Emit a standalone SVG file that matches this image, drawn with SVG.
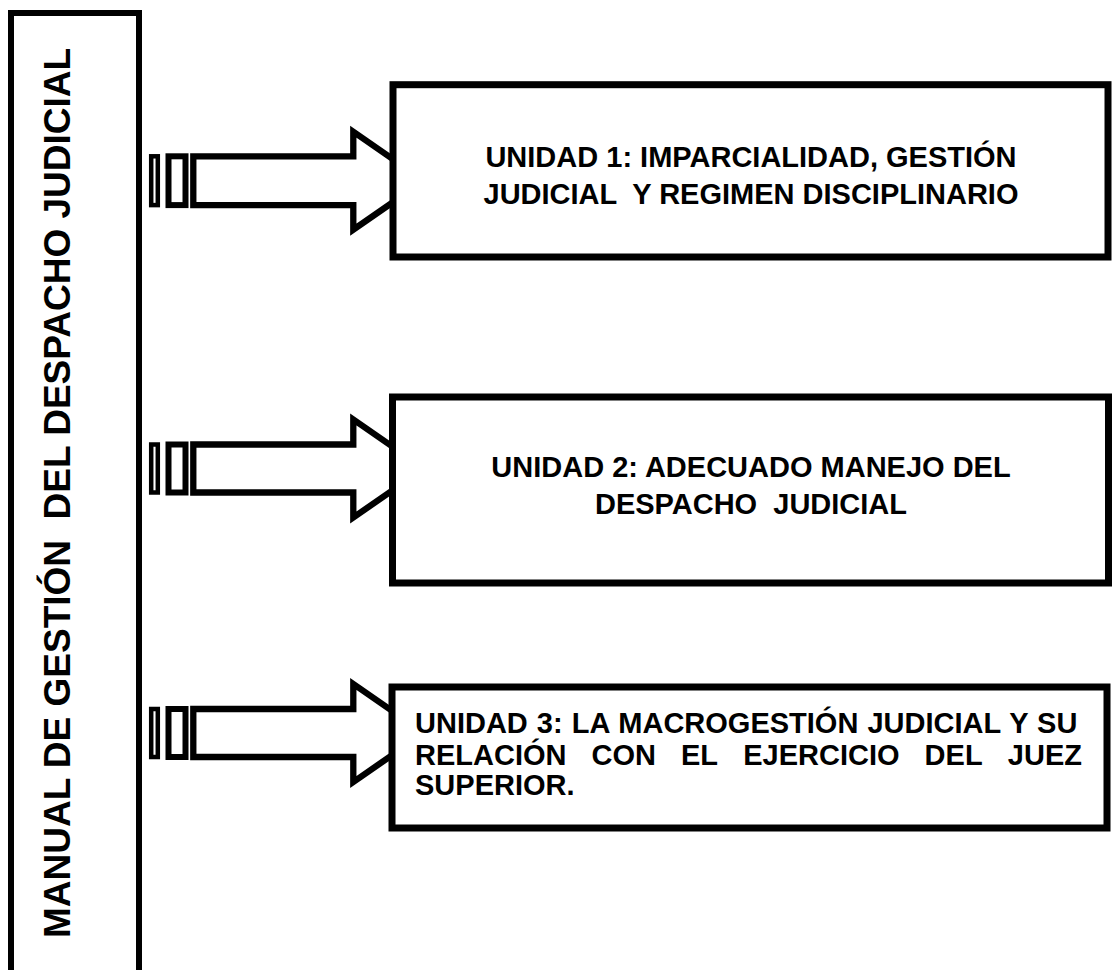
<svg xmlns="http://www.w3.org/2000/svg" width="1112" height="970" viewBox="0 0 1112 970">
<style>
  .box{fill:#fff;stroke:#000;stroke-width:7;stroke-linejoin:miter}
  .arrow{fill:#fff;stroke:#000;stroke-width:6.3;stroke-linejoin:miter}
  .bar1{fill:#fff;stroke:#000;stroke-width:4.5}
  .bar2{fill:#fff;stroke:#000;stroke-width:6}
  .t{font-family:"Liberation Sans",Arial,sans-serif;font-weight:bold;font-size:29px;fill:#000}
  .c{text-anchor:middle}
  .v{font-family:"Liberation Sans",Arial,sans-serif;font-weight:bold;font-size:37px;fill:#000;text-anchor:middle}
</style>
<rect width="1112" height="970" fill="#fff"/>
<g id="title">
  <rect x="11" y="13" width="128" height="990" fill="#fff" stroke="#000" stroke-width="6"/>
  <text class="v" transform="translate(70,493) rotate(-90)" xml:space="preserve">MANUAL DE GESTIÓN  DEL DESPACHO JUDICIAL</text>
</g>
<g id="connectors">
  <g id="arrow1">
    <rect class="bar1" x="151.2" y="156.3" width="6.6" height="48.8"/>
    <rect class="bar2" x="168.5" y="156.3" width="17" height="48.8"/>
    <path class="arrow" d="M193.3,156.3 L353.3,156.3 L353.3,131.7 L424,180.7 L353.3,229.7 L353.3,205.1 L193.3,205.1 Z"/>
  </g>
  <g id="arrow2">
    <rect class="bar1" x="151.2" y="444.5" width="6.6" height="48"/>
    <rect class="bar2" x="168.5" y="444.5" width="17" height="48"/>
    <path class="arrow" d="M193.3,444.5 L353.3,444.5 L353.3,419.5 L424,468.5 L353.3,517.5 L353.3,492.5 L193.3,492.5 Z"/>
  </g>
  <g id="arrow3">
    <rect class="bar1" x="151.2" y="709" width="6.6" height="48"/>
    <rect class="bar2" x="168.5" y="709" width="17" height="48"/>
    <path class="arrow" d="M193.3,709 L353.3,709 L353.3,684 L424,733 L353.3,782 L353.3,757 L193.3,757 Z"/>
  </g>
</g>
<g id="unit1">
  <rect class="box" x="393" y="84.7" width="715" height="172.3"/>
  <text class="t c" x="751" y="167">UNIDAD 1: IMPARCIALIDAD, GESTIÓN</text>
  <text class="t c" x="751" y="204" xml:space="preserve">JUDICIAL  Y REGIMEN DISCIPLINARIO</text>
</g>
<g id="unit2">
  <rect class="box" x="392.5" y="397" width="716" height="186"/>
  <text class="t c" x="751" y="477">UNIDAD 2: ADECUADO MANEJO DEL</text>
  <text class="t c" x="751" y="514" xml:space="preserve">DESPACHO  JUDICIAL</text>
</g>
<g id="unit3">
  <rect class="box" x="392" y="687" width="715" height="141"/>
  <text class="t" x="415" y="733" word-spacing="1">UNIDAD 3: LA MACROGESTIÓN JUDICIAL Y SU</text>
  <text class="t" y="765"><tspan x="415">RELACIÓN</tspan><tspan x="591.5">CON</tspan><tspan x="681">EL</tspan><tspan x="743.2">EJERCICIO</tspan><tspan x="924.6">DEL</tspan></text>
  <text class="t" x="1082" y="765" text-anchor="end">JUEZ</text>
  <text class="t" x="415" y="795">SUPERIOR.</text>
</g>
</svg>
